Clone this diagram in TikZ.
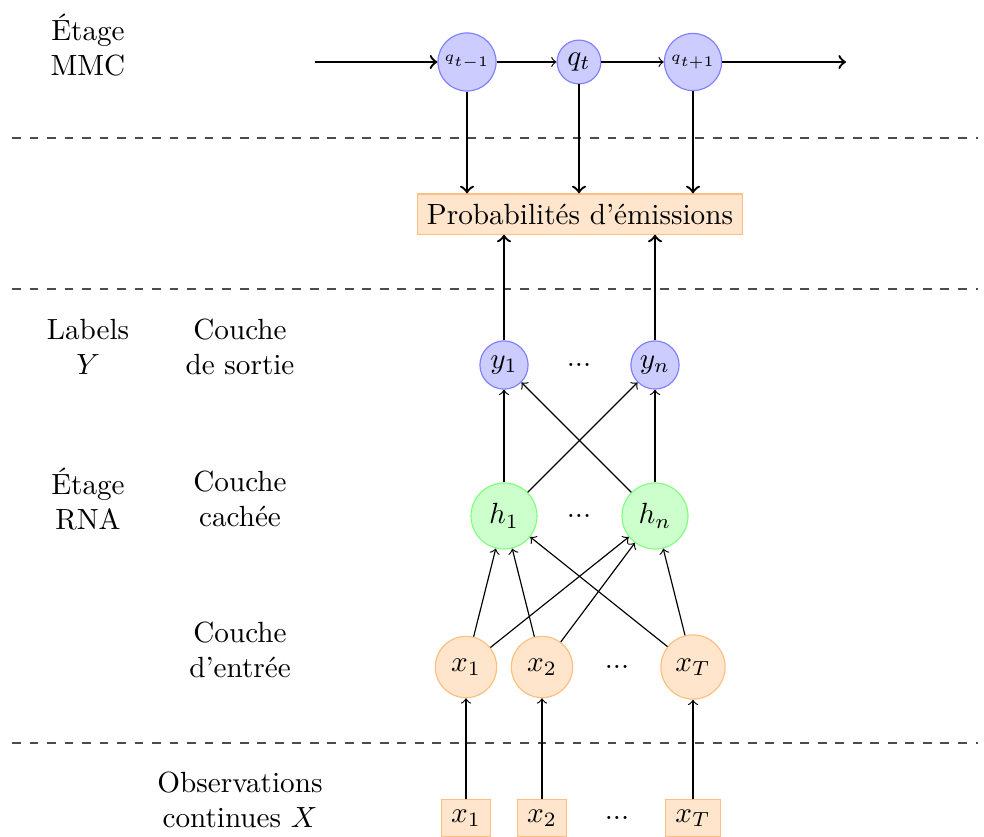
\documentclass[tikz,border=0pt]{standalone}
\begin{document}
\begin{tikzpicture}[x=0.3425pt,y=-0.3425pt,
  qnode/.style={circle,draw=blue!50,fill=blue!20,inner sep=0pt},
  ynode/.style={circle,draw=blue!50,fill=blue!20,inner sep=0pt,minimum size=16.5pt},
  hnode/.style={circle,draw=green!50,fill=green!20,inner sep=0pt,minimum size=22.6pt},
  xnode/.style={circle,draw=orange!50,fill=orange!20,inner sep=0pt,minimum size=21pt},
  obsbox/.style={rectangle,draw=orange!50,fill=orange!20},
  lbl/.style={align=center},
  sep/.style={dashed,black!70},
  link/.style={->},
  bold/.style={->,thick}]

\useasboundingbox (0,0) rectangle (984,837);

% separators between the stages
\draw[sep] (12,138) -- (978,138);
\draw[sep] (12,289) -- (978,289);
\draw[sep] (12,743) -- (978,743);

% row labels
\node[lbl] (lmmc) at (88,45) {Étage\\MMC};
\node[lbl] (lab) at (88,347) {Labels\\$Y$};
\node[lbl] (lout) at (240,347) {Couche\\de sortie};
\node[lbl] (lrna) at (88,499) {Étage\\RNA};
\node[lbl] (lhid) at (240,499) {Couche\\cachée};
\node[lbl] (lin) at (240,650) {Couche\\d’entrée};
\node[lbl] (lobs) at (240,800) {Observations\\continues $X$};

% HMM chain
\coordinate (qin) at (315,62);
\coordinate (qout) at (846,62);
\node[qnode,minimum size=19.9pt] (q1) at (467,62) {\tiny $q_{t-1}$};
\node[qnode,minimum size=15pt] (q2) at (579,62) {$q_t$};
\node[qnode,minimum size=19.6pt] (q3) at (693,62) {\tiny $q_{t+1}$};
\draw[bold] (qin) -- (q1);
\draw[link] (q1) -- (q2);
\draw[link] (q2) -- (q3);
\draw[bold] (q3) -- (qout);

% emission probabilities
\node[obsbox] (prob) at (580,214) {Probabilités d’émissions};
\draw[bold] (q1) -- (q1 |- prob.north);
\draw[bold] (q2) -- (q2 |- prob.north);
\draw[bold] (q3) -- (q3 |- prob.north);

% output layer
\node[ynode] (y1) at (504,365) {$y_1$};
\node (ydots) at (579,365) {...};
\node[ynode] (yn) at (655,365) {$y_n$};
\draw[bold] (y1) -- (y1 |- prob.south);
\draw[bold] (yn) -- (yn |- prob.south);

% hidden layer
\node[hnode] (h1) at (504,516) {$h_1$};
\node (hdots) at (579,516) {...};
\node[hnode] (hn) at (655,516) {$h_n$};

% input layer
\node[xnode] (x1) at (466,667) {$x_1$};
\node[xnode] (x2) at (542,667) {$x_2$};
\node (xdots) at (617,667) {...};
\node[xnode,minimum size=22pt] (xT) at (693,667) {$x_T$};

% continuous observations
\node[obsbox] (o1) at (466,818) {$x_1$};
\node[obsbox] (o2) at (542,818) {$x_2$};
\node (odots) at (617,818) {...};
\node[obsbox,minimum width=18.5pt] (oT) at (693,818) {$x_T$};

% hidden -> output
\draw[link] (h1) -- (y1);
\draw[link] (h1) -- (yn);
\draw[link] (hn) -- (y1);
\draw[link] (hn) -- (yn);

% input -> hidden
\draw[link] (x1) -- (h1);
\draw[link] (x1) -- (hn);
\draw[link] (x2) -- (h1);
\draw[link] (x2) -- (hn);
\draw[link] (xT) -- (h1);
\draw[link] (xT) -- (hn);

% observations -> input
\draw[link] (o1) -- (x1);
\draw[link] (o2) -- (x2);
\draw[link] (oT) -- (xT);
\end{tikzpicture}
\end{document}
